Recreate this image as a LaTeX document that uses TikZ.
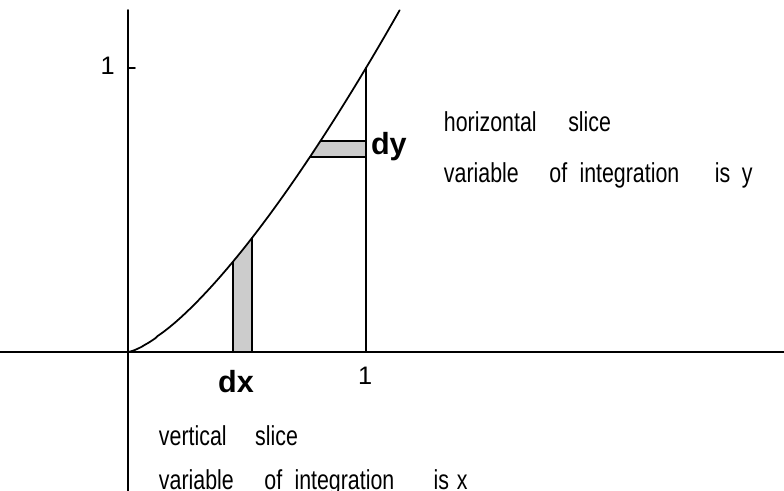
\documentclass[tikz,border=0pt]{standalone}
\usepackage{fontspec}
\setmainfont{Liberation Sans}
\newfontfamily\slicefont[FakeStretch=0.78]{Liberation Sans}
\begin{document}
\begin{tikzpicture}[line join=round,line cap=round,x=2.38cm,y=2.84cm,line width=0.55pt,
    slicetext/.style={anchor=base west,inner sep=0pt,font=\slicefont\fontsize{7.8}{9}\selectfont},
    difflabel/.style={inner sep=0pt,font=\bfseries\fontsize{8.7}{10}\selectfont},
    unitlabel/.style={inner sep=0pt,font=\fontsize{7.2}{8}\selectfont}]
	\useasboundingbox (-0.5378,-0.4894) rectangle (2.7563,1.2394);
	\fill[black!20] (0.44,0) -- plot[domain=0.44:0.52,samples=10] (\x,{(\x)^1.4}) -- (0.52,0) -- cycle;
	\fill[black!20] (0.765,0.687) -- (1,0.687) -- (1,0.743) -- plot[domain=0.809:0.765,samples=10] (\x,{(\x)^1.4}) -- cycle;
	\draw[line width=0.5pt] (0,0) -- plot[domain=0.001:1.143,samples=120] (\x,{(\x)^1.4});
	\draw (0.44,0) -- (0.44,{0.44^1.4});
	\draw (0.52,0) -- (0.52,{0.52^1.4});
	\draw (0.765,0.687) -- (1,0.687);
	\draw (0.809,0.743) -- (1,0.743);
	\draw (1,0) -- (1,1);
	\draw (-0.5378,0) -- (2.7563,0);
	\draw (0,-0.4894) -- (0,1.204);
	\draw (0,1) -- (0.029,1);
	\node[unitlabel,anchor=east] (oney) at (-0.052,1.007) {1};
	\node[unitlabel] (onex) at (0.996,-0.085) {1};
	\node[difflabel,anchor=base] (dx) at (0.454,-0.141) {dx};
	\node[difflabel,anchor=base west] (dy) at (1.017,0.694) {dy};
	\node[slicetext] (hslice) at (1.3235,0.778) {horizontal\hspace{9pt}slice};
	\node[slicetext] (hvar) at (1.3235,0.595) {variable\hspace{8.7pt}of\hspace{3.5pt}integration\hspace{10.1pt}is\hspace{3.3pt}y};
	\node[slicetext] (vslice) at (0.126,-0.331) {vertical\hspace{8.1pt}slice};
	\node[slicetext] (vvar) at (0.126,-0.486) {variable\hspace{8.7pt}of\hspace{3.5pt}integration\hspace{11.2pt}is\hspace{2.2pt}x};
\end{tikzpicture}
\end{document}
